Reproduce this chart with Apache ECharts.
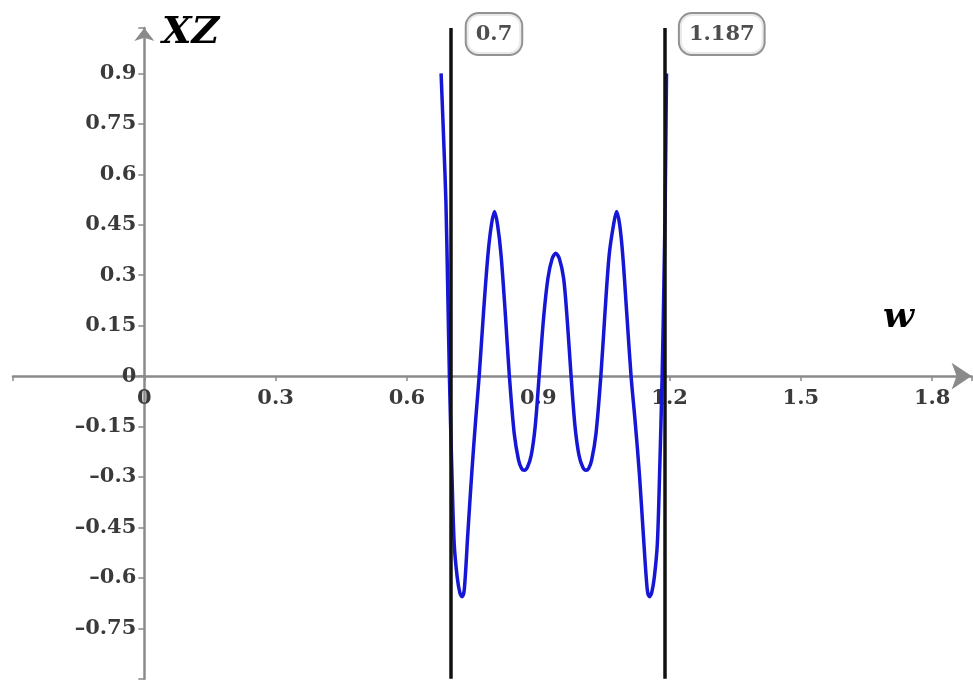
<!DOCTYPE html>
<html>
<head>
<meta charset="utf-8">
<script src="https://cdn.jsdelivr.net/npm/echarts@6/dist/echarts.min.js"></script>
<style>html,body{margin:0;padding:0;background:#fff;}#c{width:973px;height:680px;}</style>
</head>
<body>
<div id="c"></div>
<script>
// Curve samples
const w  = [0.678,0.684,0.689,0.693,0.697,0.703,0.708,0.715,0.721,0.726,0.731,0.739,0.748,0.757,0.765,0.775,0.785,0.793,0.800,0.807,0.815,0.825,0.834,0.845,0.855,0.862,0.868,0.875,0.884,0.893,0.902,0.912,0.922,0.932,0.940,0.948,0.958,0.966,0.975,0.984,0.993,1.002,1.009,1.015,1.022,1.032,1.043,1.052,1.062,1.072,1.079,1.086,1.093,1.102,1.112,1.121,1.131,1.140,1.149,1.154,1.159,1.165,1.172,1.177,1.183,1.187,1.190,1.193];
const xz = [0.90,0.70,0.52,0.27,0.00,-0.30,-0.50,-0.60,-0.645,-0.656,-0.635,-0.47,-0.29,-0.13,0.00,0.19,0.36,0.45,0.489,0.45,0.36,0.18,0.00,-0.17,-0.25,-0.275,-0.28,-0.272,-0.235,-0.15,0.00,0.17,0.29,0.35,0.365,0.35,0.29,0.17,0.00,-0.15,-0.235,-0.272,-0.28,-0.275,-0.25,-0.17,0.00,0.18,0.36,0.45,0.489,0.45,0.36,0.19,0.00,-0.13,-0.29,-0.47,-0.635,-0.656,-0.645,-0.60,-0.50,-0.30,0.00,0.27,0.52,0.90];
// Vertical marker lines
const markers = [0.7, 1.187];
const markerLabels = ['0.7', '1.187'];
const markerLabelY = 1.017;
// Tick labels
const xTickLabels = ['0','0.3','0.6','0.9','1.2','1.5','1.8'];
const yTickLabels = ['0.9','0.75','0.6','0.45','0.3','0.15','0','-0.15','-0.3','-0.45','-0.6','-0.75'];

const curve = w.map((v, i) => [v, xz[i]]);
const labelFont = 'DejaVu Serif';

const X_MIN = -0.3, X_MAX = 1.89, Y_MIN = -0.9, Y_MAX = 1.035;
const G_LEFT = 13, G_TOP = 28, G_W = 958.6, G_H = 650.7;
// place each axis through the other axis' zero
const xOffset = -G_H * (0 - Y_MIN) / (Y_MAX - Y_MIN);
const yOffset = -G_W * (0 - X_MIN) / (X_MAX - X_MIN);

const chart = echarts.init(document.getElementById('c'), null, {renderer: 'canvas'});
chart.setOption({
  animation: false,
  backgroundColor: '#fff',
  grid: {left: G_LEFT, top: G_TOP, width: G_W, height: G_H, containLabel: false, outerBoundsMode: 'none'},
  xAxis: {
    type: 'value', min: X_MIN, max: X_MAX, interval: 0.3, position: 'bottom', offset: xOffset,
    splitLine: {show: false},
    axisLine: {onZero: false, lineStyle: {color: '#8a8a8a', width: 2.5}, symbol: ['none', 'arrow'], symbolSize: [20, 20]},
    axisTick: {show: true, length: 5, lineStyle: {color: '#8a8a8a', width: 1.5}},
    axisLabel: {
      margin: 12, color: '#3a3a3a', fontFamily: labelFont, fontWeight: 'bold', fontSize: 21,
      formatter: v => { const s = String(+v.toFixed(3)); return xTickLabels.includes(s) ? s : ''; }
    }
  },
  yAxis: {
    type: 'value', min: Y_MIN, max: Y_MAX, interval: 0.15, position: 'left', offset: yOffset,
    splitLine: {show: false},
    axisLine: {onZero: false, lineStyle: {color: '#8a8a8a', width: 2.5}, symbol: ['none', 'arrow'], symbolSize: [15, 13]},
    axisTick: {show: true, length: 6, lineStyle: {color: '#8a8a8a', width: 1.5}},
    axisLabel: {
      margin: 8, color: '#3a3a3a', fontFamily: labelFont, fontWeight: 'bold', fontSize: 21,
      formatter: v => { const s = String(+v.toFixed(3)); return yTickLabels.includes(s) ? s.replace('-', '\u2013') : ''; }
    }
  },
  series: [
    {
      type: 'line', data: curve, showSymbol: false, smooth: 0.3, clip: false,
      lineStyle: {color: '#1616d6', width: 3.5}, z: 2
    },
    {
      type: 'line', data: [], z: 4,
      markLine: {
        silent: true, symbol: ['none', 'none'], animation: false,
        lineStyle: {color: '#111', width: 3.5, type: 'solid'},
        label: {show: false},
        data: markers.map(m => ({xAxis: m}))
      }
    },
    {
      type: 'scatter', symbolSize: 0, z: 5, clip: false,
      data: markers.map((m, i) => ({value: [m, markerLabelY], name: markerLabels[i]})),
      label: {
        show: true, position: 'right', distance: 16,
        formatter: p => p.name,
        fontFamily: labelFont, fontWeight: 'bold', fontSize: 21, color: '#222',
        backgroundColor: '#fff', borderColor: '#777', borderWidth: 2, borderRadius: 12,
        padding: [10, 9, 9, 9]
      }
    }
  ],
  graphic: [
    {type: 'text', left: 162, top: 14, style: {text: 'XZ', font: 'italic bold 38px "DejaVu Serif"', fill: '#000'}},
    {type: 'text', left: 883, top: 300, style: {text: 'w', font: 'italic bold 36px "DejaVu Serif"', fill: '#000'}}
  ]
});
</script>
</body>
</html>
